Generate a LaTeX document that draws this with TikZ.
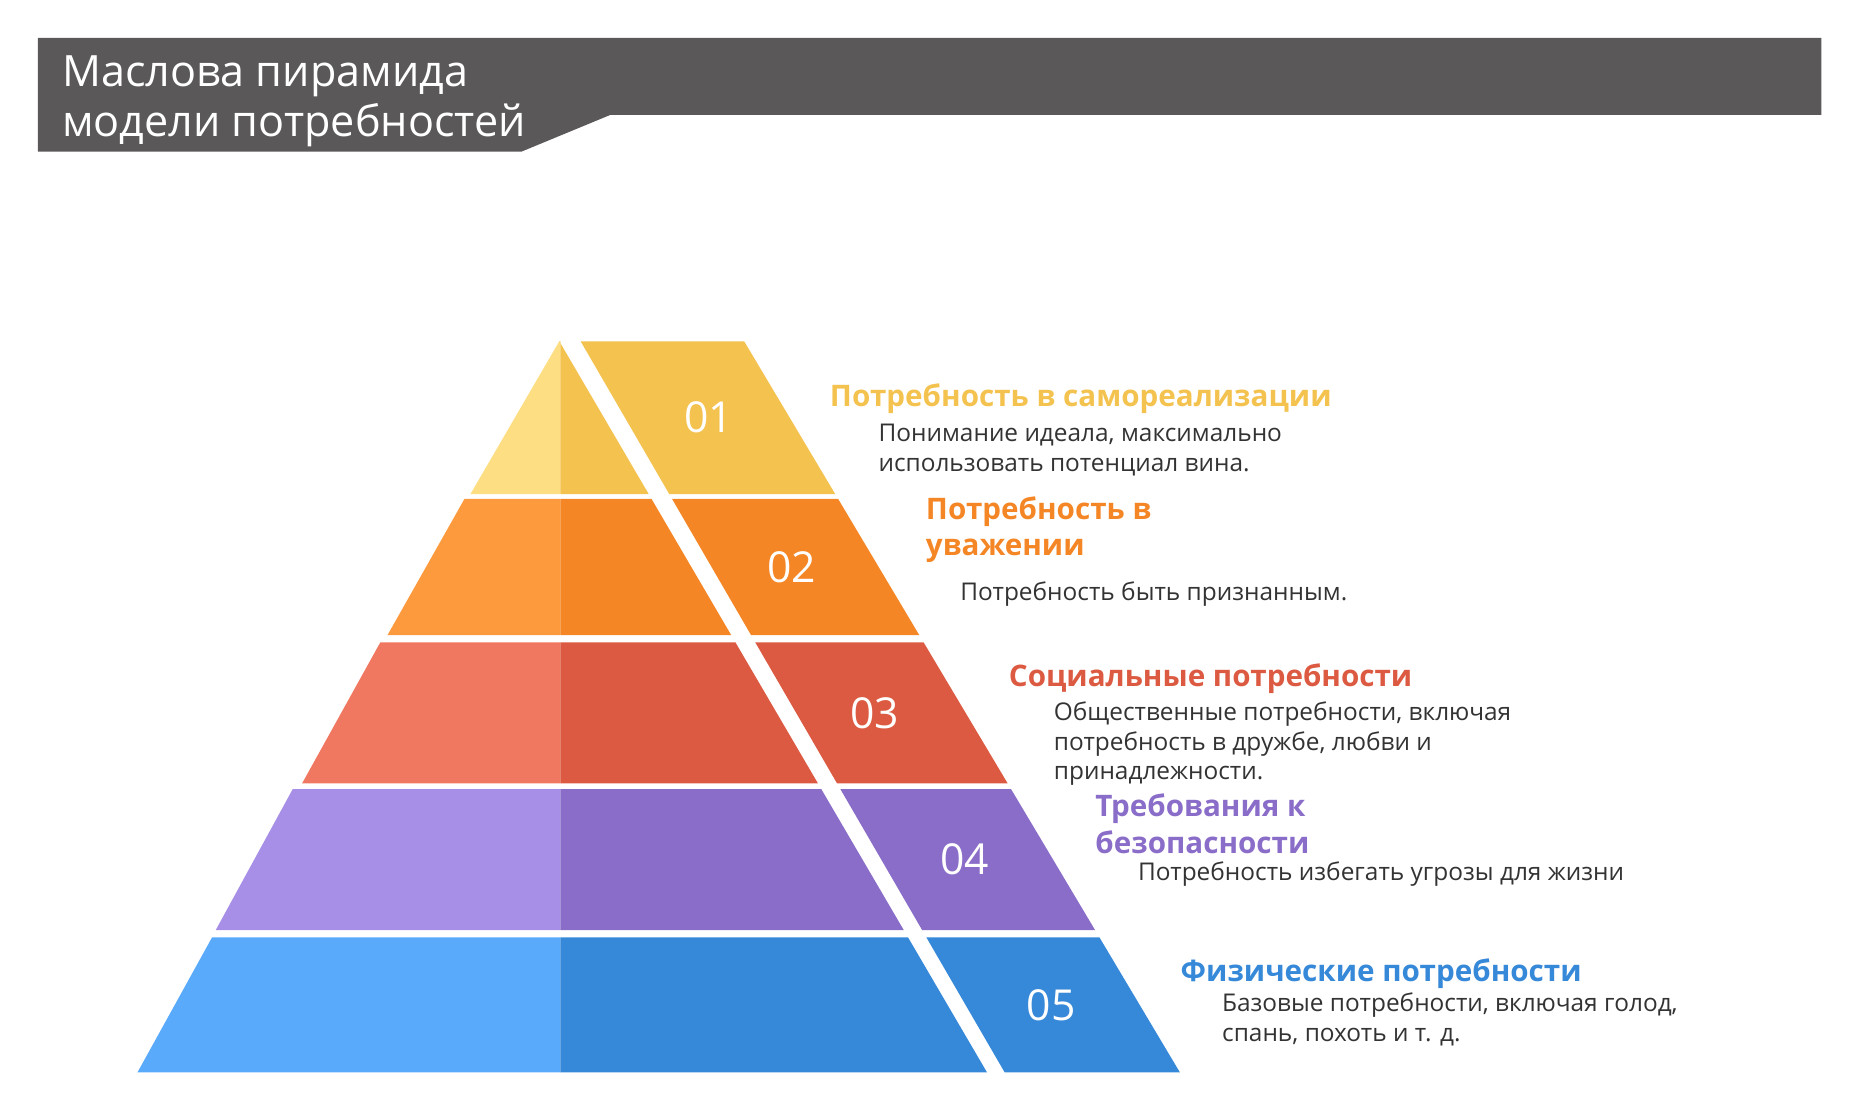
\documentclass[tikz,border=0pt]{standalone}
\usepackage{fontspec}
\setmainfont{Open Sans}
\usetikzlibrary{positioning}

\definecolor{hdr}{HTML}{5A5859}
\definecolor{yelL}{HTML}{FDDE82}
\definecolor{yelD}{HTML}{F4C24F}
\definecolor{orgL}{HTML}{FD9A3E}
\definecolor{orgD}{HTML}{F48625}
\definecolor{redL}{HTML}{F07860}
\definecolor{redD}{HTML}{DC5A41}
\definecolor{vioL}{HTML}{A78FE8}
\definecolor{vioD}{HTML}{8A6DC8}
\definecolor{bluL}{HTML}{5AAAFB}
\definecolor{bluD}{HTML}{3688D8}
\definecolor{txt}{HTML}{333333}

\tikzset{
  num/.style={text=white, font=\fontsize{18}{18}\selectfont},
  head/.style={anchor=base west, align=left, inner sep=0, font=\fontsize{12.5}{15.5}\selectfont\bfseries},
  desc/.style={anchor=base west, align=left, inner sep=0, text=txt, font=\fontsize{10.3}{12.5}\selectfont},
}

\begin{document}
\begin{tikzpicture}[x=0.5pt, y=-0.5pt]
    \useasboundingbox (0,0) rectangle (1568,937);

    % title bar
    \fill[hdr] (32,32) -- (1537,32) -- (1537,97) -- (515,97) -- (440,128) -- (32,128) -- cycle;
    \node[anchor=base west, align=left, inner sep=0, text=white, font=\fontsize{18.2}{21}\selectfont] (title) at (52,115) {Маслова пирамида\\модели потребностей};

    % pyramid levels: top/bottom/left top/left bottom/light/dark/number/number x
    \foreach \t/\b/\la/\lb/\cl/\cd/\n/\nx in {288/417/472/397/yelL/yelD/01/598, 421/536/392/327/orgL/orgD/02/668, 542/661/321/255/redL/redD/03/738, 666/785/247/182/vioL/vioD/04/814, 791/905/179/116/bluL/bluD/05/887}{
        \pgfmathsetmacro\ia{472+0.585*(\t-288)}
        \pgfmathsetmacro\ib{472+0.585*(\b-288)}
        \pgfmathsetmacro\fa{490+0.58*(\t-288)}
        \pgfmathsetmacro\fb{490+0.58*(\b-288)}
        \pgfmathsetmacro\ga{628+0.596*(\t-288)}
        \pgfmathsetmacro\gb{628+0.596*(\b-288)}
        \fill[\cl] (\la,\t) -- (473,\t) -- (473,\b) -- (\lb,\b) -- cycle;
        \fill[\cd] (473,\t) -- (\ia,\t) -- (\ib,\b) -- (473,\b) -- cycle;
        \fill[\cd] (\fa,\t) -- (\ga,\t) -- (\gb,\b) -- (\fb,\b) -- cycle;
        \node[num] (n\n) at (\nx,{(\t+\b)/2}) {\n};
    }

    % labels
    \node[head, text=yelD] (h1) at (700,343) {Потребность в самореализации};
    \node[desc] (d1) at (741,398) {Понимание идеала, максимально\\использовать потенциал вина.};
    \node[head, text=orgD] (h2) at (781,469) {Потребность в\\уважении};
    \node[desc] (d2) at (810,507) {Потребность быть признанным.};
    \node[head, text=redD] (h3) at (851,579) {Социальные потребности};
    \node[desc] (d3) at (889,658) {Общественные потребности, включая\\потребность в дружбе, любви и\\принадлежности.};
    \node[head, text=vioD] (h4) at (924,720) {Требования к\\безопасности};
    \node[desc] (d4) at (960,743) {Потребность избегать угрозы для жизни};
    \node[head, text=bluD] (h5) at (996,828) {Физические потребности};
    \node[desc] (d5) at (1031,879) {Базовые потребности, включая голод,\\спань, похоть и т. д.};
\end{tikzpicture}
\end{document}
